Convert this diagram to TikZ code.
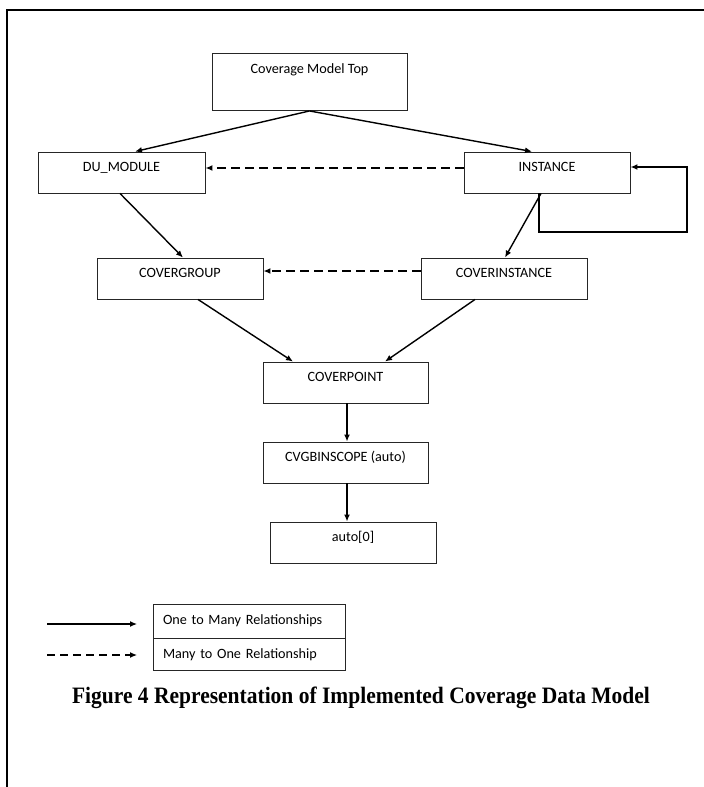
\documentclass[tikz,border=0pt]{standalone}
\usepackage{fontspec}
\setmainfont{Carlito}
\newfontfamily\captionfont{Liberation Serif}
\usetikzlibrary{arrows.meta,calc}
\begin{document}
\begin{tikzpicture}[x=1pt,y=-1pt,
  box/.style={draw=black!85, line width=0.9pt, rectangle, inner sep=0pt,
    minimum width=166pt, text height=19.5pt, text depth=21.5pt,
    font=\fontsize{14.2}{16}\selectfont},
  legbox/.style={draw=black!85, line width=0.9pt, rectangle, inner xsep=10pt, inner ysep=0pt,
    minimum width=192pt, text width=172pt, align=left,
    font=\fontsize{14.2}{16}\selectfont},
  rel/.style={line width=1.4pt, -{Latex[length=7pt,width=6pt]}},
  back/.style={rel, dash pattern=on 9pt off 5pt}]
  \useasboundingbox (0,0) rectangle (704,787);
  % outer frame, open to the right and bottom
  \draw[line width=2pt] (704,10) -- (7,10) -- (7,787);

  % hierarchy boxes
  \node[box, minimum width=195pt, text depth=37.5pt] (top) at (309.5,82) {Coverage Model Top};
  \node[box, minimum width=167pt] (du) at (121.5,172.5) {DU\_MODULE};
  \node[box] (inst) at (547,172.5) {INSTANCE};
  \node[box] (cg) at (180,278.5) {COVERGROUP};
  \node[box] (ci) at (504,278.5) {COVERINSTANCE};
  \node[box, minimum width=165pt] (cp) at (345.5,382.5) {COVERPOINT};
  \node[box, minimum width=165pt] (cvg) at (345.5,462.5) {CVGBINSCOPE (auto)};
  \node[box] (auto) at (353,542.5) {auto[0]};

  % one to many
  \draw[rel] (top.south) -- (du.north -| 135,0);
  \draw[rel] (top.south) -- (inst.north -| 532,0);
  \draw[rel] (du.south -| 120,0) -- (cg.north -| 183,0);
  \draw[rel] (inst.south -| 541,0) -- (ci.north -| 505,0);
  \draw[rel] (cg.south -| 198,0) -- (cp.north -| 293,0);
  \draw[rel] (ci.south -| 475,0) -- (cp.north -| 385,0);
  \draw[rel] (cp.south -| 347,0) -- (cvg.north -| 347,0);
  \draw[rel] (cvg.south -| 347,0) -- (auto.north -| 347,0);
  % instance nesting loop
  \draw[rel] (inst.south -| 539,0) -- (539,232) -- (687,232) -- (687,167) -- (inst.east |- 0,167);

  % many to one
  \draw[back] (inst.west |- 0,168) -- (du.east |- 0,168);
  \draw[back] (ci.west |- 0,271) -- (cg.east |- 0,271);

  % legend
  \node[legbox, minimum height=34pt] (leg1) at (249,621) {One to Many Relationships};
  \node[legbox, minimum height=32pt, anchor=north] (leg2) at (leg1.south) {Many to One Relationship};
  \coordinate (s1) at (47,624);
  \coordinate (e1) at (137,624);
  \coordinate (s2) at (47,655);
  \coordinate (e2) at (137,655);
  \draw[rel, line width=1.2pt] (s1) -- (e1);
  \draw[back, line width=1.2pt, dash pattern=on 8pt off 5pt] (s2) -- (e2);

  % caption, set in a slightly condensed bold serif
  \node[font=\captionfont\bfseries\fontsize{23.5}{26}\selectfont] (cap) at (361,698)
    {\scalebox{0.915}[1]{Figure 4 Representation of Implemented Coverage Data Model}};
\end{tikzpicture}
\end{document}
